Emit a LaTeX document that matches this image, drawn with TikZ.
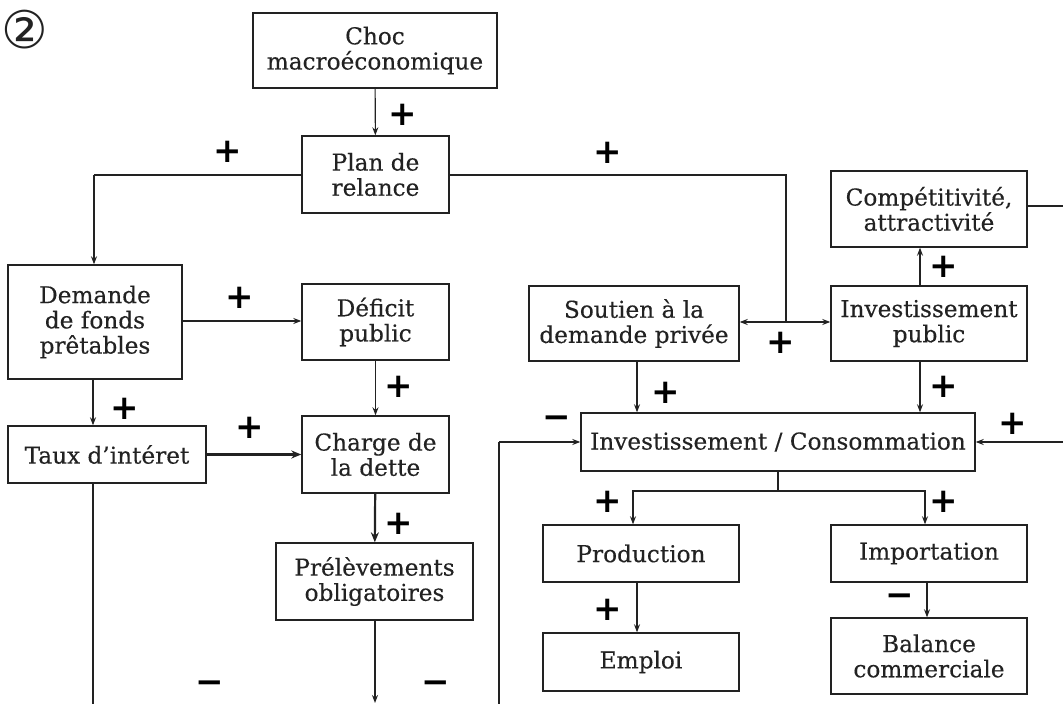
\documentclass[tikz,border=0pt]{standalone}
\usepackage{fontspec}
\setmainfont{DejaVu Serif}
\newfontfamily\boxfont{DejaVu Serif}[FakeBold=0.35]
\newfontfamily\signfont{DejaVu Sans}
\usetikzlibrary{arrows.meta}
\definecolor{ink}{HTML}{222222}
\tikzset{
  box/.style={draw=ink, line width=0.7pt, inner sep=0pt, align=center, text=ink,
    font=\boxfont\fontsize{11.6}{12.6}\selectfont},
  conn/.style={draw=ink, line width=0.55pt, -{Stealth[length=4pt,width=3pt]}},
  plain/.style={draw=ink, line width=0.55pt},
  thickconn/.style={draw=ink, line width=1.1pt, -{Stealth[length=5pt,width=4pt]}},
  sign/.style={font=\signfont\bfseries\fontsize{17}{17}\selectfont, text=black, inner sep=0pt}
}
\begin{document}
\begin{tikzpicture}[x=0.5pt,y=-0.5pt]
\useasboundingbox (0,0) rectangle (1063,704);
\node[font=\signfont\fontsize{26}{26}\selectfont, text=ink, inner sep=0pt] (num) at (25,30) {②};
% boxes
\node[box, minimum width=122pt, minimum height=37.5pt] (choc) at (375,50.5) {Choc\\macroéconomique};
\node[box, minimum width=73.5pt, minimum height=38.5pt] (plan) at (375.5,174.5) {Plan de\\relance};
\node[box, minimum width=87pt, minimum height=57pt] (dem) at (95,322) {Demande\\de fonds\\prêtables};
\node[box, minimum width=73.5pt, minimum height=38pt] (def) at (375.5,322) {Déficit\\public};
\node[box, minimum width=99pt, minimum height=28.5pt] (taux) at (107,454.5) {Taux d’intéret};
\node[box, minimum width=73.5pt, minimum height=38.5pt] (charge) at (375.5,454.5) {Charge de\\la dette};
\node[box, minimum width=98.5pt, minimum height=38.5pt] (prel) at (374.5,581.5) {Prélèvements\\obligatoires};
\node[box, minimum width=98pt, minimum height=38pt] (comp) at (929,209) {Compétitivité,\\attractivité};
\node[box, minimum width=105pt, minimum height=37.5pt] (sout) at (634,323.5) {Soutien à la\\demande privée};
\node[box, minimum width=98pt, minimum height=37.5pt] (invp) at (929,323.5) {Investissement\\public};
\node[box, minimum width=197pt, minimum height=29pt] (ic) at (778,442) {Investissement / Consommation};
\node[box, minimum width=98pt, minimum height=28.5pt] (prod) at (641,553.5) {Production};
\node[box, minimum width=98pt, minimum height=28.5pt] (imp) at (929,553.5) {Importation};
\node[box, minimum width=98pt, minimum height=29pt] (emp) at (641,662) {Emploi};
\node[box, minimum width=98pt, minimum height=38pt] (bal) at (929,656) {Balance\\commerciale};
% helper coordinates
\coordinate (pl) at (94,175);
\coordinate (pr) at (786,175);
\coordinate (jn) at (786,322);
\coordinate (tb) at (93,704);
\coordinate (pb) at (375,703);
\coordinate (lb) at (499,704);
\coordinate (lt) at (499,442);
\coordinate (re) at (1063,442);
\coordinate (ce) at (1063,206);
\coordinate (ix) at (920,0);
\coordinate (br) at (778,491);
% connectors
\draw[conn] (choc) -- (plan);
\draw[plain] (plan.west |- pl) -- (pl);
\draw[conn] (pl) -- (pl |- dem.north);
\draw[plain] (plan.east |- pr) -- (pr) -- (jn);
\draw[conn] (jn) -- (invp.west |- jn);
\draw[conn] (jn) -- (sout.east |- jn);
\draw[conn] (dem.east |- 0,321) -- (def.west |- 0,321);
\draw[conn] (dem.south -| tb) -- (taux.north -| tb);
\draw[thickconn] (taux) -- (charge);
\draw[conn] (def) -- (charge);
\draw[thickconn] (charge) -- (prel);
\draw[conn] (prel.south -| pb) -- (pb);
\draw[plain] (taux.south -| tb) -- (tb);
\draw[plain] (lb) -- (lt);
\draw[conn] (lt) -- (ic.west |- lt);
\draw[conn] (re) -- (ic.east |- re);
\draw[plain] (comp.east |- ce) -- (ce);
\draw[conn] (invp.north -| ix) -- (comp.south -| ix);
\draw[conn] (invp.south -| ix) -- (ic.north -| ix);
\draw[conn] ([xshift=1.5pt]sout.south) -- ([xshift=1.5pt]sout.south |- ic.north);
\draw[plain] (ic.south -| br) -- (br);
\draw[conn] (br) -| ([xshift=-4pt]prod.north);
\draw[conn] (br) -| ([xshift=-2pt]imp.north);
\draw[conn] ([xshift=-2pt]prod.south) -- ([xshift=-2pt]emp.north);
\draw[conn] ([xshift=-1pt]imp.south) -- ([xshift=-1pt]bal.north);
% signs
\node[sign] (s1) at (403,115) {+};
\node[sign] (s2) at (228,152) {+};
\node[sign] (s3) at (608,153) {+};
\node[sign] (s4) at (240,298) {+};
\node[sign] (s5) at (125,409) {+};
\node[sign] (s6) at (250,428) {+};
\node[sign] (s7) at (399,387) {+};
\node[sign] (s8) at (399,524) {+};
\node[sign] (s9) at (210,687) {−};
\node[sign] (s10) at (436,687) {−};
\node[sign] (s11) at (557,422) {−};
\node[sign] (s12) at (944,267) {+};
\node[sign] (s13) at (666,393) {+};
\node[sign] (s14) at (944,387) {+};
\node[sign] (s15) at (1013,424) {+};
\node[sign] (s16) at (781,343) {+};
\node[sign] (s17) at (608,502) {+};
\node[sign] (s18) at (944,502) {+};
\node[sign] (s19) at (608,610) {+};
\node[sign] (s20) at (900,600) {−};
\end{tikzpicture}
\end{document}
